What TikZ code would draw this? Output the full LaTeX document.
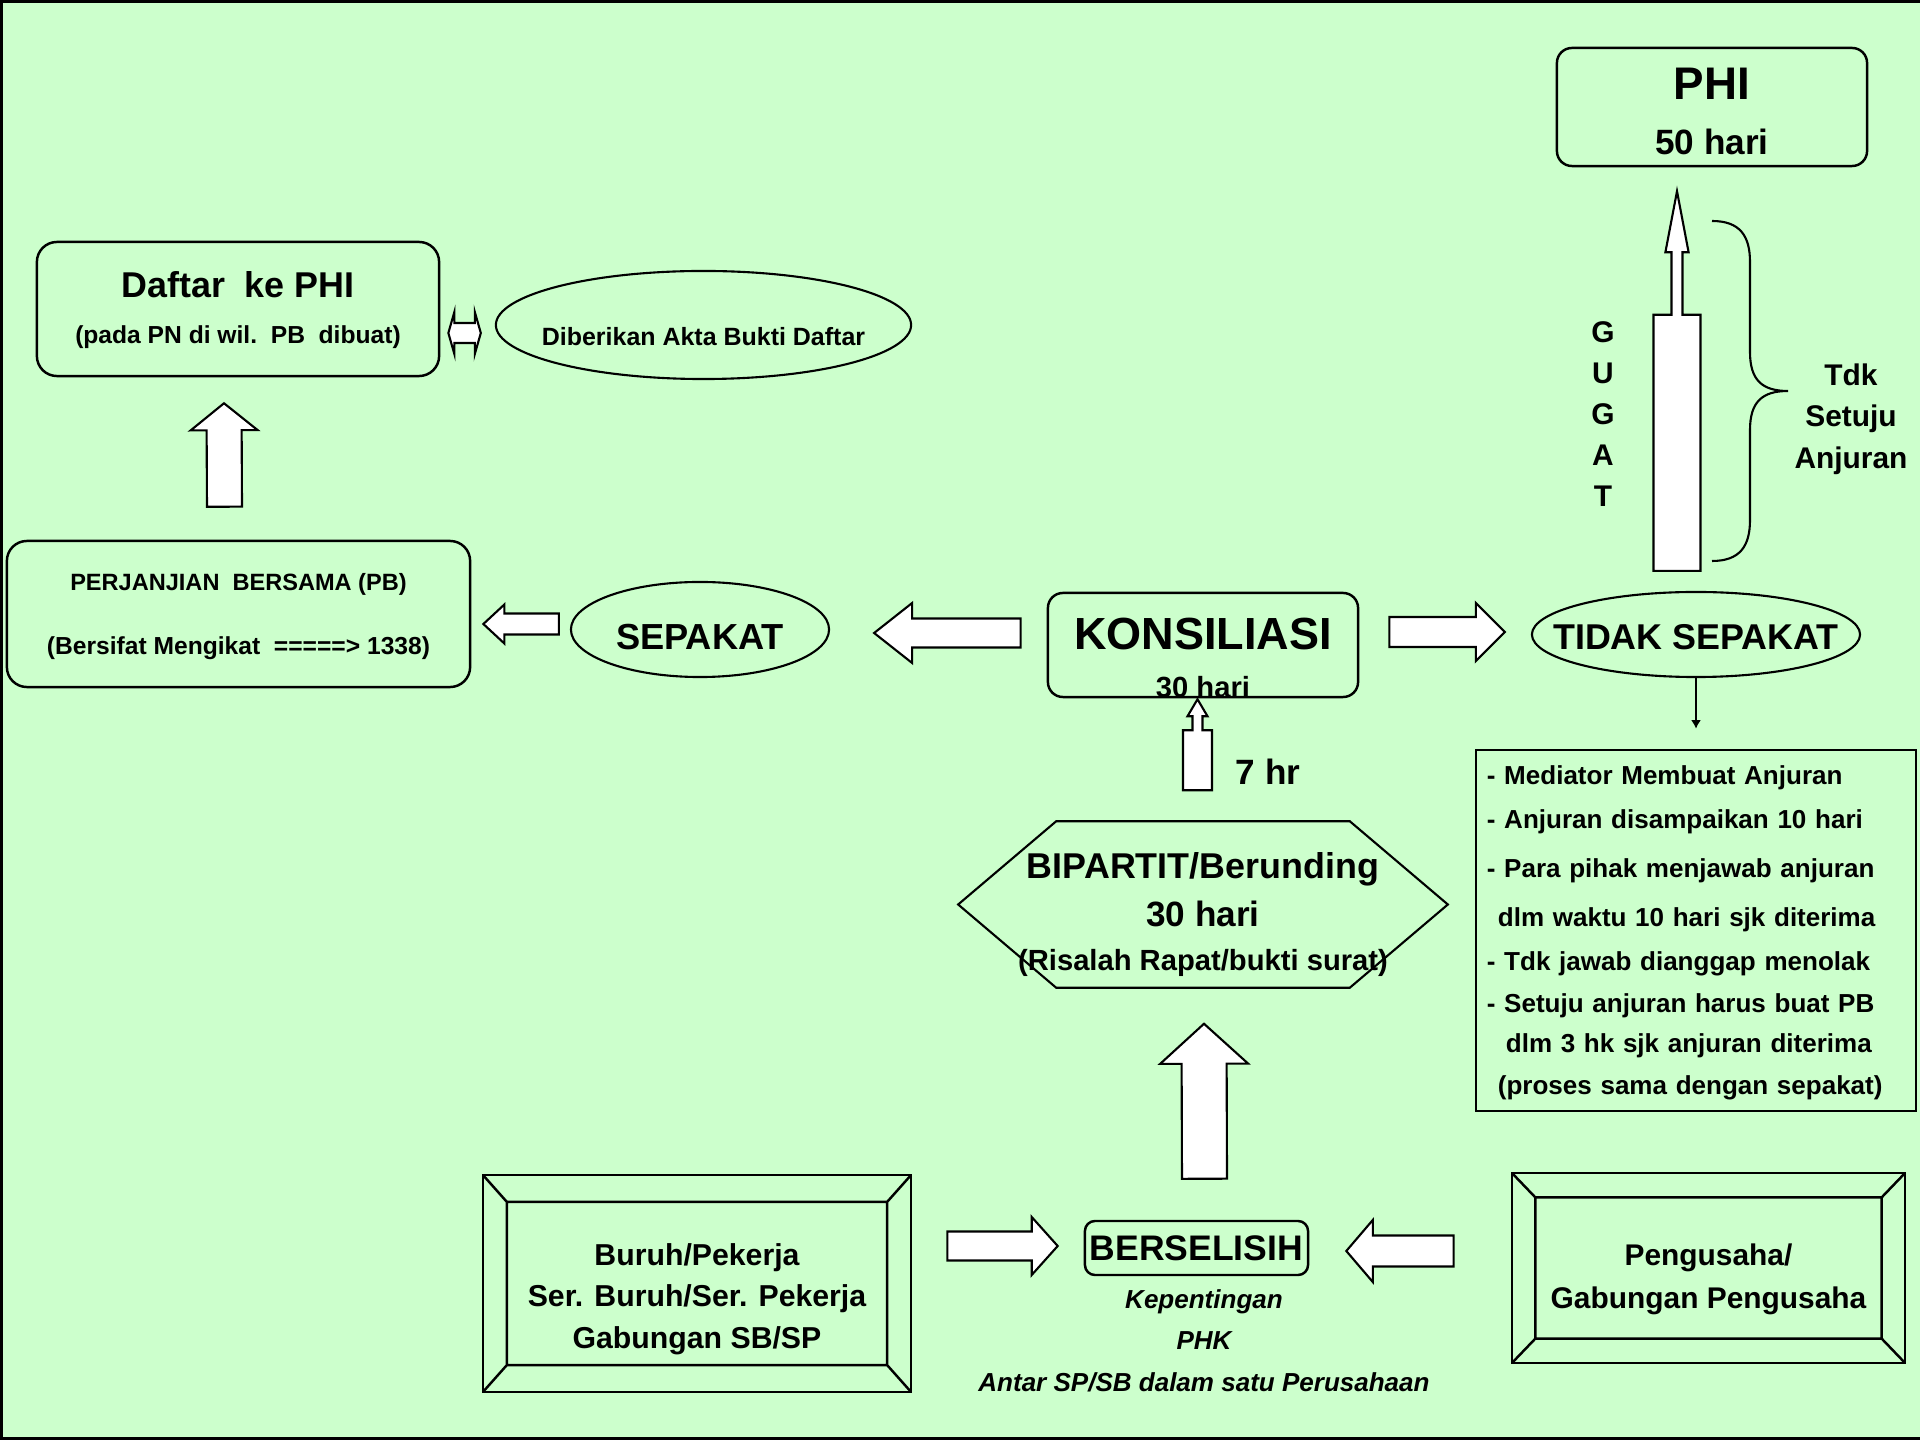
\documentclass[tikz,border=0pt]{standalone}
\usepackage{fontspec}
\setmainfont{Liberation Sans}
\usepackage{tikz}
\usetikzlibrary{shapes.geometric, arrows.meta, positioning, calc}

\definecolor{bgGreen}{HTML}{CCFFCC}
\newcommand{\fsz}[2]{\fontsize{#1}{#2}\selectfont}

\begin{document}
\begin{tikzpicture}[
        x=0.01cm, y=-0.01cm,
        roundBlock/.style={
            rectangle, rounded corners=#1, draw=black, line width=0.7pt,
            align=center, inner sep=0pt
        },
        roundBlock/.default=0.15cm,
        ovalBlock/.style={
            ellipse, draw=black, line width=0.6pt, inner sep=0pt
        },
        listBlock/.style={
            rectangle, draw=black, line width=0.7pt, align=left,
            inner xsep=0.11cm, inner ysep=0pt
        },
        bevelBlock/.style 2 args={
            rectangle, draw=black, line width=0.7pt, align=center, inner sep=0pt,
            path picture={
                \draw[line width=0.7pt]
                    ([xshift=#1, yshift=-#2]path picture bounding box.north west) rectangle
                    ([xshift=-#1, yshift=#2]path picture bounding box.south east)
                    (path picture bounding box.north west) -- ++(#1,-#2)
                    (path picture bounding box.north east) -- ++(-#1,-#2)
                    (path picture bounding box.south west) -- ++(#1,#2)
                    (path picture bounding box.south east) -- ++(-#1,#2);
            }
        },
        freeText/.style={
            inner sep=0pt, align=center
        },
        fatArrow/.style n args={3}{% shaft half, head half, head length
            draw=black, fill=white, line width=0.6pt,
            to path={
                let \p1=($(\tikztotarget)!#3!(\tikztostart)$) in
                ($(\tikztostart)!#1!90:(\tikztotarget)$) --
                ($(\p1)!#1!90:(\tikztotarget)$) --
                ($(\p1)!#2!90:(\tikztotarget)$) --
                (\tikztotarget) --
                ($(\p1)!#2!-90:(\tikztotarget)$) --
                ($(\p1)!#1!-90:(\tikztotarget)$) --
                ($(\tikztostart)!#1!-90:(\tikztotarget)$) -- cycle
            }
        },
        neckArrow/.style n args={5}{% shaft half, shaft length, neck half, head half, head length
            draw=black, fill=white, line width=0.6pt,
            to path={
                let \p1=($(\tikztostart)!#2!(\tikztotarget)$),
                    \p2=($(\tikztotarget)!#5!(\tikztostart)$) in
                ($(\tikztostart)!#1!90:(\tikztotarget)$) --
                ($(\p1)!#1!90:(\tikztotarget)$) --
                ($(\p1)!#3!90:(\tikztotarget)$) --
                ($(\p2)!#3!90:(\tikztotarget)$) --
                ($(\p2)!#4!90:(\tikztotarget)$) --
                (\tikztotarget) --
                ($(\p2)!#4!-90:(\tikztotarget)$) --
                ($(\p2)!#3!-90:(\tikztotarget)$) --
                ($(\p1)!#3!-90:(\tikztotarget)$) --
                ($(\p1)!#1!-90:(\tikztotarget)$) --
                ($(\tikztostart)!#1!-90:(\tikztotarget)$) -- cycle
            }
        },
        twinArrow/.style n args={3}{% shaft half, head half, head length
            draw=black, fill=white, line width=0.6pt,
            to path={
                let \p1=($(\tikztostart)!#3!(\tikztotarget)$),
                    \p2=($(\tikztotarget)!#3!(\tikztostart)$) in
                (\tikztostart) --
                ($(\p1)!#2!90:(\tikztotarget)$) --
                ($(\p1)!#1!90:(\tikztotarget)$) --
                ($(\p2)!#1!90:(\tikztotarget)$) --
                ($(\p2)!#2!90:(\tikztotarget)$) --
                (\tikztotarget) --
                ($(\p2)!#2!-90:(\tikztotarget)$) --
                ($(\p2)!#1!-90:(\tikztotarget)$) --
                ($(\p1)!#1!-90:(\tikztotarget)$) --
                ($(\p1)!#2!-90:(\tikztotarget)$) -- cycle
            }
        },
        thinArrow/.style={
            -{Latex[length=2.4pt, width=2.8pt]}, line width=0.45pt
        }
    ]
        \useasboundingbox (0,0) rectangle (1920,1440);
        \fill[bgGreen] (0,0) rectangle (1920,1440);

        % Nodes
        \node (phi) [roundBlock, minimum width=3.10cm, minimum height=1.18cm,
            text height=1.06cm, text depth=0.12cm, font=\bfseries\fsz{10}{15.4}]
            at (1712,107) {\fsz{13}{15.4}PHI\\50 hari};
        \node (daftar) [roundBlock=0.2cm, minimum width=4.02cm, minimum height=1.34cm,
            text height=1.01cm, text depth=0.33cm, font=\bfseries\fsz{7}{12.8}]
            at (238,309) {\fsz{10.2}{12.8}Daftar~~ke PHI\\(pada PN di wil.~~PB~~dibuat)};
        \node (akta) [ovalBlock, minimum width=4.15cm, minimum height=1.08cm,
            text height=0.5cm, text depth=0.1cm, font=\bfseries\fsz{7.1}{9}]
            at (703.5,325) {\makebox[0pt]{Diberikan Akta Bukti Daftar}};
        \node (perjanjian) [roundBlock=0.2cm, minimum width=4.63cm, minimum height=1.46cm,
            text height=1.13cm, text depth=0.33cm, font=\bfseries\fsz{7}{18.2}]
            at (238.5,614) {\fsz{6.7}{18.2}PERJANJIAN~~BERSAMA (PB)\\(Bersifat Mengikat~~=====> 1338)};
        \node (sepakat) [ovalBlock, minimum width=2.58cm, minimum height=0.95cm,
            text height=0.49cm, text depth=0.1cm, font=\bfseries\fsz{10.3}{12}]
            at (700,629.5) {\makebox[0pt]{SEPAKAT}};
        \node (konsiliasi) [roundBlock, minimum width=3.10cm, minimum height=1.04cm,
            text height=1.04cm, text depth=0cm, font=\bfseries\fsz{8.3}{13.4}]
            at (1203,645) {\fsz{12.8}{13.4}KONSILIASI\\30 hari};
        \node (tidak) [ovalBlock, minimum width=3.28cm, minimum height=0.85cm,
            text height=0.4cm, text depth=0.1cm, font=\bfseries\fsz{10.2}{12}]
            at (1696,634.5) {\makebox[0pt]{TIDAK SEPAKAT}};
        \node (anjuran) [listBlock, minimum width=4.40cm, minimum height=3.61cm, text width=4.18cm,
            text height=0.35cm, text depth=3.26cm, font=\bfseries\fsz{7.4}{11.4}]
            at (1696,930.5) {- Mediator Membuat Anjuran\\[1.1pt]
            - Anjuran disampaikan 10 hari\\[2.3pt]
            - Para pihak menjawab anjuran\\[2.8pt]
            \hspace*{0.11cm}dlm waktu 10 hari sjk diterima\\[1.1pt]
            - Tdk jawab dianggap menolak\\[0.3pt]
            - Setuju anjuran harus buat PB\\
            \hspace*{0.19cm}dlm 3 hk sjk anjuran diterima\\[0.5pt]
            \hspace*{0.11cm}(proses sama dengan sepakat)};
        \node (bipartit) [freeText, minimum width=4.88cm, minimum height=1.65cm,
            text height=1.48cm, text depth=0.17cm, font=\bfseries\fsz{8.3}{12.3}]
            at (1203,904.5) {\fsz{10.2}{12.3}BIPARTIT/Berunding\\[1.5pt]\fsz{10}{12.3}30 hari\\(Risalah Rapat/bukti surat)};
        \node (berselisih) [roundBlock=0.1cm, minimum width=2.23cm, minimum height=0.54cm,
            font=\bfseries\fsz{10.1}{12}] at (1196.5,1248) {BERSELISIH};
        \node (jenis) [freeText, below=0.13cm of berselisih, xshift=0.075cm,
            font=\bfseries\itshape\fsz{7.4}{11.7}] {Kepentingan\\PHK\\Antar SP/SB dalam satu Perusahaan};
        \node (buruh) [bevelBlock={0.24cm}{0.27cm}, minimum width=4.28cm, minimum height=2.17cm,
            text height=1.73cm, text depth=0.44cm, font=\bfseries\fsz{8.6}{11.8}]
            at (697,1283.5) {Buruh/Pekerja\\Ser. Buruh/Ser. Pekerja\\Gabungan SB/SP};
        \node (pengusaha) [bevelBlock={0.235cm}{0.245cm}, minimum width=3.93cm, minimum height=1.90cm,
            text height=1.35cm, text depth=0.55cm, font=\bfseries\fsz{8.5}{12.2}]
            at (1708.5,1268) {Pengusaha/\\Gabungan Pengusaha};
        \node (gugat) [freeText, font=\bfseries\fsz{8.5}{11.7}] at (1603,414) {G\\U\\G\\A\\T};
        \node (tdk) [freeText, font=\bfseries\fsz{8.5}{11.8}] at (1851,419) {Tdk\\Setuju\\Anjuran};
        \node (tujuh) [freeText, font=\bfseries\fsz{10}{12}] at (1268,772) {7 hr};

        % hexagon outline of the bipartit stage
        \draw[line width=0.6pt] (bipartit.west) -- ([xshift=0.98cm]bipartit.north west)
            -- ([xshift=-0.98cm]bipartit.north east) -- (bipartit.east)
            -- ([xshift=-0.98cm]bipartit.south east) -- ([xshift=0.98cm]bipartit.south west) -- cycle;

        % brace next to the gugat arrow
        \draw[line width=0.6pt] (1712,221) .. controls (1740,221) and (1750,236) .. (1750,262)
            -- (1750,352) .. controls (1750,380) and (1762,391) .. (1788,391)
            .. controls (1762,391) and (1750,402) .. (1750,430)
            -- (1750,520) .. controls (1750,546) and (1740,561) .. (1712,561);

        % Arrow ends
        \coordinate (pbTail) at ($(perjanjian.north)+(-14,-33)$);
        \coordinate (pbTip) at ($(daftar.south)+(-14,26)$);
        \coordinate (aktaL) at ($(daftar.east)+(8,24)$);
        \coordinate (aktaR) at ($(akta.west)+(-14,8)$);
        \coordinate (sepTail) at ($(sepakat.west)+(-11,-5.5)$);
        \coordinate (sepTip) at ($(perjanjian.east)+(12,10)$);
        \coordinate (konLTail) at ($(konsiliasi.west)+(-26,-12)$);
        \coordinate (konLTip) at ($(sepakat.east)+(44,3.5)$);
        \coordinate (konRTail) at ($(konsiliasi.east)+(30,-13)$);
        \coordinate (konRTip) at ($(tidak.west)+(-26,-2.5)$);
        \coordinate (gugatTail) at ($(tidak.north)+(-19,-20)$);
        \coordinate (gugatTip) at ($(phi.south)+(-35,24)$);
        \coordinate (tujuhTail) at ($(bipartit.north)+(-5.5,-31)$);
        \coordinate (tujuhTip) at ($(konsiliasi.south)+(-5.5,1)$);
        \coordinate (bipTail) at ($(berselisih.north)+(8,-41)$);
        \coordinate (bipTip) at ($(bipartit.south)+(1,36)$);
        \coordinate (buruhTail) at ($(buruh.east)+(35,-37.5)$);
        \coordinate (buruhTip) at ($(berselisih.west)+(-26,-2)$);
        \coordinate (pengTail) at ($(pengusaha.west)+(-57,-17)$);
        \coordinate (pengTip) at ($(berselisih.east)+(37,3)$);

        % Arrows
        \draw [fatArrow={0.175cm}{0.335cm}{0.27cm}] (pbTail) to (pbTip);
        \draw [twinArrow={0.10cm}{0.21cm}{0.06cm}] (aktaL) to (aktaR);
        \draw [fatArrow={0.105cm}{0.195cm}{0.21cm}] (sepTail) to (sepTip);
        \draw [fatArrow={0.145cm}{0.30cm}{0.38cm}] (konLTail) to (konLTip);
        \draw [fatArrow={0.15cm}{0.29cm}{0.29cm}] (konRTail) to (konRTip);
        \draw [neckArrow={0.235cm}{2.56cm}{0.055cm}{0.116cm}{0.61cm}] (gugatTail) to (gugatTip);
        \draw [neckArrow={0.145cm}{0.60cm}{0.05cm}{0.10cm}{0.17cm}] (tujuhTail) to (tujuhTip);
        \draw [fatArrow={0.225cm}{0.44cm}{0.40cm}] (bipTail) to (bipTip);
        \draw [fatArrow={0.145cm}{0.29cm}{0.26cm}] (buruhTail) to (buruhTip);
        \draw [fatArrow={0.155cm}{0.31cm}{0.265cm}] (pengTail) to (pengTip);
        \draw [thinArrow, shorten >=0.2cm] (tidak.south) -- (tidak.south |- anjuran.north);

        % frame
        \draw[line width=0.03cm] (1920,1.5) -- (1.5,1.5) -- (1.5,1438.5) -- (1920,1438.5);
    \end{tikzpicture}
\end{document}
